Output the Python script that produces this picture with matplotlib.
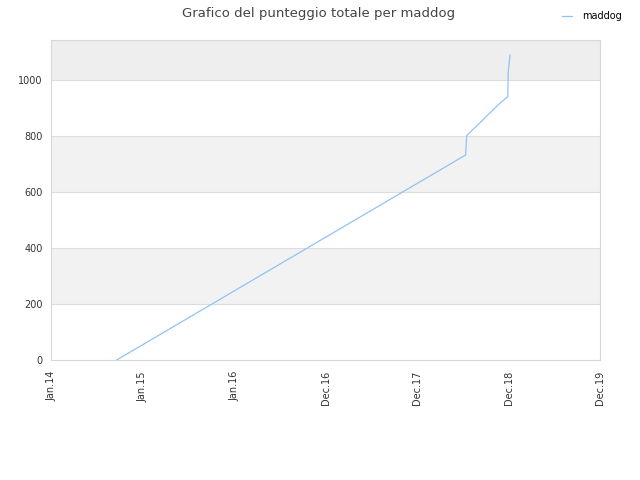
import numpy as np
import pandas as pd
import matplotlib
matplotlib.use('Agg')
import matplotlib.pyplot as plt
import matplotlib.dates as mdates

# punti
dates = ['2014-09-20', '2018-07-13', '2018-07-17', '2018-08-30',
         '2018-11-19', '2018-12-28', '2018-12-30', '2019-01-06']
scores = [0, 731, 800, 838, 909, 939, 1028, 1087]
series_name = 'maddog'

tick_dates = ['2014-01-01', '2015-01-01', '2016-01-01', '2016-12-31',
              '2017-12-31', '2018-12-31', '2019-12-31']

x = pd.to_datetime(dates)
ticks = pd.to_datetime(tick_dates)

fig = plt.figure(figsize=(6.4, 4.8), dpi=100)
ax = fig.add_axes([0.0797, 0.25, 0.8578, 0.6667])

ymax = 1141
# fasce alternate
for i, lo in enumerate(range(0, 1200, 200)):
    if i % 2 == 1:
        c = '#eeeeee' if lo >= 1000 else '#f2f2f2'
        ax.axhspan(lo, min(lo + 200, ymax), color=c, zorder=0, lw=0)
for yv in range(200, 1200, 200):
    ax.axhline(yv, color='#dddddd', lw=0.8, zorder=1)

ax.plot(x, scores, color='#90c3f5', lw=0.9, label=series_name, zorder=3)

ax.set_xlim(ticks[0], ticks[-1])
ax.set_ylim(0, ymax)
ax.set_yticks(range(0, 1200, 200))
ax.set_xticks(ticks)
ax.xaxis.set_major_formatter(mdates.DateFormatter('%b.%y'))
plt.setp(ax.get_xticklabels(), rotation=90)
ax.tick_params(axis='both', labelsize=7, colors='#333333', length=0, pad=6)
ax.tick_params(axis='x', pad=8)
for s in ax.spines.values():
    s.set_color('#d8d8d8')
    s.set_linewidth(0.8)

fig.text(0.497, 0.972, 'Grafico del punteggio totale per maddog', ha='center',
         va='center', fontsize=9.5, color='#444444')
fig.legend(loc='upper right', bbox_to_anchor=(0.985, 0.995), frameon=False,
           fontsize=7, handlelength=1.0, handletextpad=1.0)

fig.savefig('out.png', dpi=100)
